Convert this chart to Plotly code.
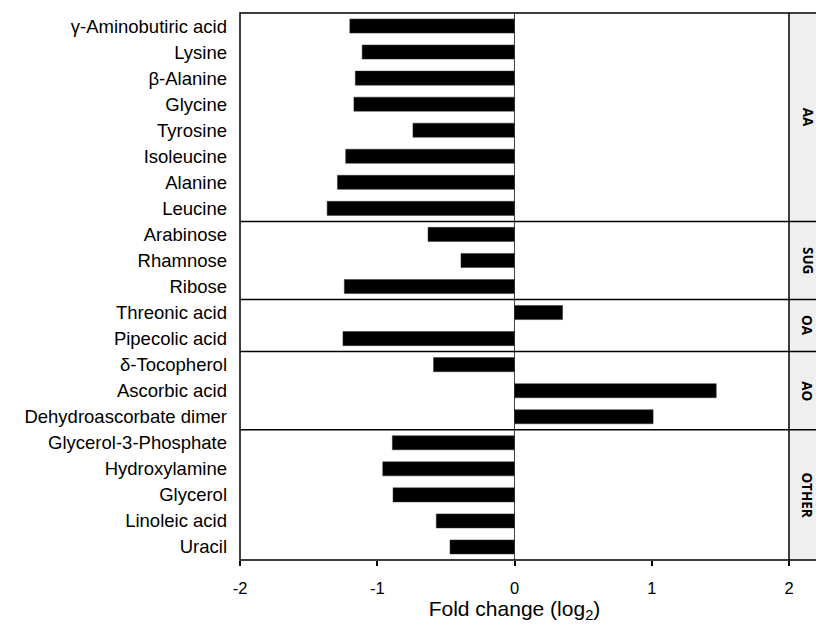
import plotly.graph_objects as go

metabolites = [
    "γ-Aminobutiric acid", "Lysine", "β-Alanine", "Glycine", "Tyrosine",
    "Isoleucine", "Alanine", "Leucine",
    "Arabinose", "Rhamnose", "Ribose",
    "Threonic acid", "Pipecolic acid",
    "δ-Tocopherol", "Ascorbic acid", "Dehydroascorbate dimer",
    "Glycerol-3-Phosphate", "Hydroxylamine", "Glycerol", "Linoleic acid", "Uracil",
]
fold_change = [
    -1.20, -1.11, -1.16, -1.17, -0.74,
    -1.23, -1.29, -1.365,
    -0.63, -0.39, -1.24,
    0.35, -1.25,
    -0.59, 1.47, 1.01,
    -0.89, -0.96, -0.885, -0.57, -0.47,
]
group_names = ["AA", "SUG", "OA", "AO", "OTHER"]
group_sizes = [8, 3, 2, 3, 5]
x_ticks = [-2, -1, 0, 1, 2]

fig = go.Figure()
fig.add_trace(go.Bar(
    x=fold_change, y=metabolites, orientation="h",
    marker=dict(color="black", line=dict(color="#333333", width=0.5)),
    width=0.54, showlegend=False,
))

FONT = "Liberation Sans, Arial, sans-serif"
W, H = 816, 624
ML, MR, MT, MB = 240, 27, 13, 64
plot_w = W - ML - MR
strip_x1 = (W - ML) / plot_w
label_x = (807.5 - ML) / plot_w

shapes = []
shapes.append(dict(type="rect", xref="paper", yref="paper", x0=1, x1=strip_x1, y0=0, y1=1,
                   fillcolor="#efefef", line=dict(width=0), layer="below"))
shapes.append(dict(type="rect", xref="paper", yref="paper", x0=0, x1=1, y0=0, y1=1,
                   line=dict(color="black", width=1.5), fillcolor="rgba(0,0,0,0)"))
for yy in (0, 1):
    shapes.append(dict(type="line", xref="paper", yref="paper", x0=1, x1=strip_x1, y0=yy, y1=yy,
                       line=dict(color="black", width=1.5)))

annotations = []
start = 0
n = len(metabolites)
for name, size in zip(group_names, group_sizes):
    end = start + size
    center = (start + end - 1) / 2
    annotations.append(dict(xref="paper", yref="y", x=label_x, y=center,
                            text="<b>%s</b>" % name, showarrow=False, textangle=90,
                            font=dict(family="Open Sans, sans-serif", size=13.5, color="black"),
                            xanchor="center", yanchor="middle"))
    if end < n:
        shapes.append(dict(type="line", xref="paper", yref="y", x0=0, x1=strip_x1,
                           y0=end - 0.5, y1=end - 0.5, line=dict(color="black", width=1.5)))
    start = end

fig.update_layout(
    width=W, height=H,
    margin=dict(l=ML, r=MR, t=MT, b=MB),
    plot_bgcolor="white", paper_bgcolor="white",
    font=dict(family=FONT, color="black"),
    shapes=shapes, annotations=annotations,
    xaxis=dict(range=[-2, 2], tickvals=x_ticks, ticktext=[str(v) for v in x_ticks],
               ticks="outside", ticklen=5, tickwidth=1.5, tickcolor="black",
               showgrid=False, zeroline=True, zerolinecolor="#444444", zerolinewidth=1,
               showline=False, tickfont=dict(size=16.5, family=FONT), ticklabelstandoff=8,
               automargin=False,
               title=dict(text="Fold change (log<sub>2</sub>)", font=dict(size=21, family=FONT),
                          standoff=5)),
    yaxis=dict(categoryorder="array", categoryarray=metabolites,
               range=[n - 0.5, -0.5], showgrid=False, zeroline=False, ticks="",
               showline=False, tickfont=dict(size=18.5, family=FONT), ticklabelstandoff=12,
               automargin=False),
)

fig.write_html(
    "out.html",
    config={"displayModeBar": False},
    post_script="document.body.style.margin='0';document.body.style.overflow='hidden';",
)
